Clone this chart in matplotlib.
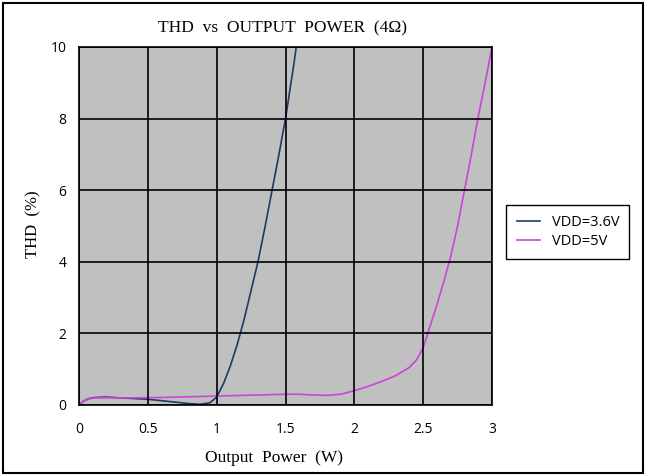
import matplotlib
matplotlib.use('Agg')
import matplotlib.pyplot as plt
from matplotlib.patches import Rectangle

# Datos
x_36v = [0, 0.03, 0.07, 0.12, 0.2, 0.3, 0.4, 0.5, 0.6, 0.7, 0.8, 0.88, 0.95,
         1.0, 1.05, 1.1, 1.15, 1.2, 1.25, 1.3, 1.35, 1.4, 1.45, 1.5, 1.53, 1.56, 1.578]
thd_36v = [0, 0.1, 0.18, 0.21, 0.22, 0.2, 0.18, 0.16, 0.12, 0.08, 0.04, 0.02, 0.06,
           0.22, 0.6, 1.1, 1.7, 2.4, 3.2, 4.0, 4.95, 5.95, 6.95, 8.0, 8.75, 9.5, 10.0]

x_5v = [0, 0.03, 0.07, 0.12, 0.2, 0.4, 0.6, 0.8, 1.0, 1.2, 1.4, 1.5, 1.6, 1.7, 1.8,
        1.9, 2.0, 2.1, 2.2, 2.3, 2.4, 2.45, 2.5, 2.55, 2.6, 2.65, 2.7, 2.75, 2.8,
        2.85, 2.9, 2.95, 3.0]
thd_5v = [0, 0.1, 0.17, 0.2, 0.2, 0.2, 0.21, 0.23, 0.25, 0.27, 0.29, 0.3, 0.3, 0.28,
          0.27, 0.3, 0.4, 0.52, 0.66, 0.82, 1.05, 1.25, 1.6, 2.2, 2.8, 3.45, 4.15,
          5.0, 6.0, 7.0, 8.05, 9.0, 10.0]

xticks = [0, 0.5, 1, 1.5, 2, 2.5, 3]
xtick_labels = ['0', '0.5', '1', '1.5', '2', '2.5', '3']
yticks = [0, 2, 4, 6, 8, 10]

fuente_serif = ['Liberation Serif', 'DejaVu Serif']
fuente_sans = 'Open Sans'

fig = plt.figure(figsize=(6.47, 4.76), dpi=100)
ax = fig.add_axes([79/647, 1-405/476, (492-79)/647, (405-47)/476])
ax.set_facecolor('#c0c0c0')

ax.plot(x_36v, thd_36v, color='#1f3864', linewidth=1.2, label='VDD=3.6V')
ax.plot(x_5v, thd_5v, color='#cc44dd', linewidth=1.2, label='VDD=5V')

ax.set_xlim(0, 3)
ax.set_ylim(0, 10)
ax.set_xticks(xticks)
ax.set_xticklabels(xtick_labels)
ax.set_yticks(yticks)
ax.grid(True, color='black', linewidth=1.2)
ax.set_axisbelow(False)
ax.tick_params(length=0, labelsize=10)
ax.tick_params(axis='x', pad=12)
ax.tick_params(axis='y', pad=9)
for lbl in ax.get_xticklabels() + ax.get_yticklabels():
    lbl.set_fontfamily(fuente_sans)
for s in ax.spines.values():
    s.set_color('black')
    s.set_linewidth(1.2)

fig.text(283/647, 1-28/476, 'THD  vs  OUTPUT  POWER  (4Ω)', family=fuente_serif,
         fontsize=12.5, ha='center', va='center')
fig.text(274/647, 1-458/476, 'Output  Power  (W)', family=fuente_serif,
         fontsize=12.5, ha='center', va='center')
fig.text(33/647, 1-224/476, 'THD  (%)', family=fuente_serif,
         fontsize=12, ha='center', va='center', rotation=90)

leg = ax.legend(loc='center left', bbox_to_anchor=(499/647, 1-232/476),
                bbox_transform=fig.transFigure, fancybox=False, framealpha=1,
                edgecolor='black', prop={'family': fuente_sans, 'size': 10.5},
                handlelength=1.6, borderpad=0.7, labelspacing=0.3)
leg.get_frame().set_linewidth(1.0)

# Marco exterior
fig.patches.append(Rectangle((3/647, 3/476), 640/647, 470/476, transform=fig.transFigure,
                             fill=False, edgecolor='black', linewidth=1.5))

plt.savefig('out.png', dpi=100)
